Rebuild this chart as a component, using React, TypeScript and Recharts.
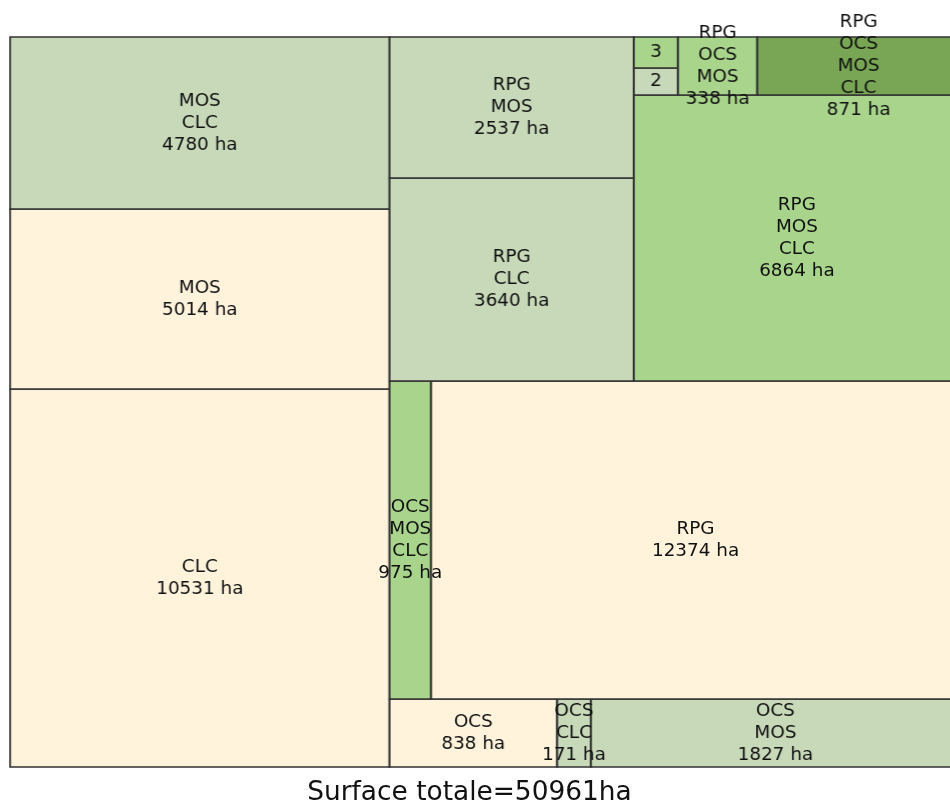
import React from 'react';
import { Treemap } from 'recharts';

// Categories (source combinations), in the order they were laid out
const names = [
  'CLC', 'MOS', 'MOS CLC', 'OCS', 'OCS CLC', 'OCS MOS', 'OCS MOS CLC',
  'RPG', 'RPG CLC', 'RPG MOS', 'RPG MOS CLC', 'RPG OCS', 'RPG OCS CLC',
  'RPG OCS MOS', 'RPG OCS MOS CLC',
];
// Surfaces in ha
const surfaces = [
  10531, 5014, 4780, 838, 171, 1827, 975,
  12374, 3640, 2537, 6864, 88, 103,
  338, 871,
];
const totalLabel = 'Surface totale=50961ha';

const data = names.map((name, i) => ({ name, size: surfaces[i] }));

const LAYOUT_W = 731; // near-square layout space (squarify-like normalisation)
const LAYOUT_H = 730;
const PLOT_W = 950;
const SX = PLOT_W / LAYOUT_W;

const palette: Record<number, string> = {
  1: '#fff3dc',
  2: '#c8d9b9',
  3: '#a8d48b',
  4: '#78a654',
};

const nSources = (name: string) => name.split(' ').length;

const CellRect = (props: any) => {
  const { depth, x, y, width, height, name } = props;
  if (depth !== 1) return null;
  return (
    <rect
      x={x}
      y={y}
      width={width}
      height={height}
      fill={palette[nSources(name)]}
      stroke="#333333"
      strokeWidth={1.5}
      vectorEffect="non-scaling-stroke"
    />
  );
};

const CellLabel = (props: any) => {
  const { depth, x, y, width, height, name, value } = props;
  if (depth !== 1) return null;
  const lines = value < 150 ? [String(nSources(name))] : [...name.split(' '), `${value} ha`];
  const n = lines.length;
  const cx = x + width / 2;
  const cy = y + height / 2;
  return (
    <g transform={`translate(${cx},${cy}) scale(${1 / SX},-1)`}>
      {lines.map((l, i) => (
        <text
          key={i}
          x={0}
          y={(i - (n - 1) / 2) * 22 + 5}
          textAnchor="middle"
          fontSize={18.4}
          fill="#111111"
          fontFamily="DejaVu Sans"
        >
          {l}
        </text>
      ))}
    </g>
  );
};

export default function App() {
  return (
    <div
      style={{
        position: 'fixed',
        left: 0,
        top: 0,
        width: 950,
        height: 807,
        overflow: 'hidden',
        background: '#ffffff',
      }}
    >
      <style>{`.tm svg{overflow:visible}`}</style>
      <div
        className="tm"
        style={{
          position: 'absolute',
          left: 10,
          top: 37,
          width: LAYOUT_W,
          height: LAYOUT_H,
          transformOrigin: '0 50%',
          transform: `scale(${SX}, -1)`,
        }}
      >
        <div style={{ position: 'absolute', left: 0, top: 0 }}>
          <Treemap
            width={LAYOUT_W}
            height={LAYOUT_H}
            data={data}
            dataKey="size"
            nameKey="name"
            aspectRatio={1}
            isAnimationActive={false}
            content={<CellRect />}
          />
        </div>
        <div style={{ position: 'absolute', left: 0, top: 0 }}>
          <Treemap
            width={LAYOUT_W}
            height={LAYOUT_H}
            data={data}
            dataKey="size"
            nameKey="name"
            aspectRatio={1}
            isAnimationActive={false}
            content={<CellLabel />}
          />
        </div>
      </div>
      <svg width={950} height={807} style={{ position: 'absolute', left: 0, top: 0, pointerEvents: 'none' }}>
        <text x={469.5} y={800} textAnchor="middle" fontSize={26.4} fill="#111111" fontFamily="DejaVu Sans">
          {totalLabel}
        </text>
      </svg>
    </div>
  );
}
